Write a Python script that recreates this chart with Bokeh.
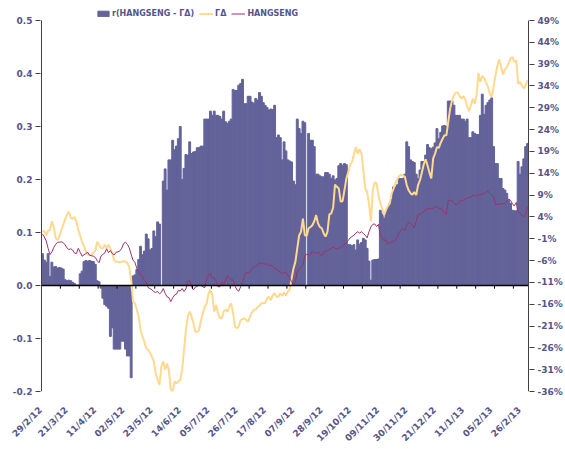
from math import pi
import numpy as np
from bokeh.plotting import figure
from bokeh.models import (Range1d, LinearAxis, FixedTicker, PrintfTickFormatter,
                          CustomJSTickFormatter, Legend, LegendItem)
from bokeh.embed import file_html
from bokeh.resources import INLINE

# ---------------- data (one value per trading day) ----------------
date_labels = ["29/2/12", "21/3/12", "11/4/12", "02/5/12", "23/5/12", "14/6/12",
               "05/7/12", "26/7/12", "17/8/12", "07/9/12", "28/9/12", "19/10/12",
               "09/11/12", "30/11/12", "21/12/12", "11/1/13", "05/2/13", "26/2/13"]

# r(HANGSENG - ΓΔ)  (left axis)
corr = [
    0.060, 0.048, 0.044, 0.060, 0.017, 0.044, 0.035, 0.036, 0.033, 0.034,
    0.033, 0.031, 0.011, 0.009, 0.010, 0.009, 0.006, 0.004, 0.001, 0.001,
    0.022, 0.027, 0.045, 0.047, 0.046, 0.047, 0.046, 0.045, 0.040, 0.009,
    0.007, -0.005, -0.024, -0.036, -0.039, -0.043, -0.096, -0.080, -0.120, -0.120,
    -0.120, -0.120, -0.105, -0.105, -0.120, -0.133, -0.133, -0.174, 0.018, 0.020,
    0.030, 0.049, 0.074, 0.058, 0.065, 0.097, 0.088, 0.067, 0.070, 0.103,
    0.092, 0.120, 0.116, 0.000, 0.197, 0.220, 0.180, 0.237, 0.237, 0.274,
    0.256, 0.263, 0.277, 0.300, 0.200, 0.221, 0.247, 0.246, 0.271, 0.249,
    0.252, 0.253, 0.260, 0.260, 0.263, 0.263, 0.314, 0.314, 0.314, 0.329,
    0.321, 0.329, 0.321, 0.321, 0.319, 0.314, 0.329, 0.309, 0.306, 0.310,
    0.314, 0.370, 0.368, 0.368, 0.378, 0.381, 0.389, 0.343, 0.343, 0.357,
    0.357, 0.346, 0.344, 0.353, 0.350, 0.364, 0.357, 0.345, 0.340, 0.336,
    0.331, 0.333, 0.332, 0.340, 0.279, 0.284, 0.279, 0.237, 0.271, 0.254,
    0.237, 0.235, 0.233, 0.197, 0.190, 0.314, 0.296, 0.287, 0.310, 0.307,
    0.000, 0.287, 0.274, 0.274, 0.262, 0.210, 0.210, 0.207, 0.205, 0.205,
    0.213, 0.213, 0.210, 0.202, 0.207, 0.199, 0.202, 0.226, 0.230, 0.227,
    0.230, 0.228, 0.077, 0.077, 0.075, 0.077, 0.067, 0.086, 0.078, 0.081,
    0.089, 0.086, 0.070, 0.046, 0.010, 0.048, 0.049, 0.049, 0.050, 0.142,
    0.135, 0.127, 0.139, 0.147, 0.155, 0.163, 0.186, 0.186, 0.190, 0.202,
    0.202, 0.202, 0.210, 0.271, 0.262, 0.237, 0.234, 0.232, 0.210, 0.202,
    0.218, 0.234, 0.234, 0.246, 0.266, 0.260, 0.258, 0.261, 0.269, 0.296,
    0.277, 0.289, 0.301, 0.302, 0.300, 0.348, 0.348, 0.348, 0.340, 0.321,
    0.321, 0.321, 0.314, 0.314, 0.310, 0.314, 0.279, 0.279, 0.290, 0.287,
    0.285, 0.285, 0.321, 0.361, 0.323, 0.340, 0.345, 0.350, 0.354, 0.262,
    0.230, 0.230, 0.202, 0.202, 0.183, 0.180, 0.174, 0.161, 0.155, 0.142,
    0.141, 0.141, 0.234, 0.210, 0.224, 0.239, 0.262, 0.268,
]

# ΓΔ cumulative change, %  (right axis)
gd = [
    0.6, 0.8, -0.2, 0.8, 1.0, 3.0, 1.7, -0.8, -1.3, -0.5,
    1.0, 2.1, 3.5, 4.6, 5.2, 3.8, 3.6, 4.0, 2.9, 1.0,
    -0.3, -1.8, -2.6, -4.0, -4.6, -4.7, -4.7, -4.1, -3.8, -1.7,
    -2.4, -3.2, -3.2, -2.4, -3.2, -2.4, -3.2, -4.4, -5.9, -6.3,
    -6.3, -6.4, -6.3, -6.1, -6.3, -6.5, -7.5, -10.5, -15.4, -15.8,
    -17.3, -18.8, -21.9, -23.4, -24.6, -26.1, -26.5, -27.2, -28.0, -29.1,
    -31.8, -33.3, -34.5, -30.3, -29.1, -31.0, -29.6, -31.2, -35.6, -36.0,
    -33.7, -34.1, -33.7, -33.3, -31.0, -26.5, -21.9, -18.8, -17.7, -18.8,
    -20.4, -22.3, -22.3, -21.9, -19.6, -18.1, -16.6, -15.8, -13.5, -12.7,
    -13.9, -17.7, -16.2, -18.1, -19.2, -19.2, -17.7, -17.2, -17.7, -16.6,
    -15.8, -18.1, -21.1, -21.5, -21.1, -19.6, -19.4, -19.2, -19.6, -20.0,
    -18.8, -17.9, -17.3, -17.2, -16.6, -16.4, -15.8, -15.7, -15.7, -14.6,
    -14.3, -15.1, -13.9, -13.5, -14.3, -14.3, -13.5, -14.1, -13.3, -14.0,
    -13.1, -12.7, -10.1, -7.8, -6.3, -3.2, -0.2, 0.6, 3.6, -0.2,
    -0.3, 1.4, 1.7, 2.1, 3.0, 4.4, 2.5, 1.7, 1.4, 0.2,
    -0.5, 0.6, 4.6, 4.8, 6.1, 11.4, 10.9, 10.5, 7.5, 7.6,
    10.1, 12.8, 14.2, 16.0, 16.6, 18.3, 20.0, 18.5, 19.5, 18.5,
    14.7, 10.5, 9.7, 7.1, 3.0, 10.1, 11.9, 11.7, 9.0, 7.1,
    5.9, 4.4, 5.6, 6.5, 7.1, 9.4, 10.5, 11.7, 12.6, 13.4,
    13.7, 13.4, 13.2, 11.3, 10.1, 9.4, 9.1, 9.7, 9.0, 11.3,
    12.4, 14.2, 16.0, 17.2, 15.8, 14.2, 12.8, 17.4, 18.5, 20.0,
    19.8, 21.0, 21.9, 22.7, 22.7, 25.8, 28.8, 30.7, 31.9, 32.5,
    32.5, 31.7, 31.1, 31.7, 30.9, 29.4, 28.2, 29.6, 31.1, 29.9,
    31.9, 37.0, 34.9, 36.3, 35.8, 34.9, 33.8, 32.2, 31.5, 34.0,
    36.4, 38.7, 40.1, 38.3, 36.6, 37.8, 38.3, 39.3, 40.4, 40.6,
    39.5, 39.9, 34.5, 34.9, 34.1, 33.4, 34.1, 35.3,
]

# HANGSENG cumulative change, %  (right axis)
hsi = [
    0.1, -0.6, -1.5, -3.2, -4.6, -4.0, -3.0, -2.3, -1.8, -1.8,
    -1.7, -1.9, -2.4, -3.1, -3.5, -3.3, -3.6, -4.3, -4.4, -3.2,
    -4.1, -5.0, -4.7, -4.4, -4.1, -4.8, -4.9, -5.0, -5.3, -6.0,
    -6.5, -5.0, -4.6, -4.3, -3.3, -4.2, -3.7, -4.4, -4.7, -4.1,
    -4.0, -3.8, -3.2, -2.1, -1.8, -2.3, -3.1, -4.6, -5.9, -6.4,
    -7.8, -8.5, -9.3, -9.8, -10.5, -10.9, -12.2, -12.4, -12.7, -13.1,
    -13.3, -13.1, -13.6, -13.3, -12.4, -13.5, -14.3, -14.5, -15.4, -14.5,
    -13.9, -13.7, -12.8, -13.0, -12.4, -13.1, -12.5, -10.7, -10.6, -12.0,
    -12.7, -12.1, -11.9, -11.6, -11.7, -12.0, -12.2, -10.3, -9.3, -9.0,
    -10.0, -9.9, -10.8, -12.0, -12.0, -10.9, -11.5, -10.5, -9.5, -10.0,
    -10.5, -10.4, -11.8, -12.7, -13.0, -12.0, -10.8, -9.5, -8.7, -8.8,
    -8.5, -7.8, -7.6, -7.3, -6.9, -6.5, -6.8, -6.6, -6.9, -6.7,
    -7.2, -7.1, -7.3, -7.8, -7.9, -8.4, -8.6, -8.9, -8.9, -8.7,
    -9.3, -10.1, -10.8, -11.6, -10.8, -8.5, -8.1, -7.5, -6.9, -4.9,
    -4.6, -4.7, -4.6, -3.8, -4.3, -4.3, -4.1, -4.4, -5.0, -4.1,
    -3.8, -3.7, -3.4, -3.2, -2.9, -3.2, -3.4, -3.2, -3.0, -2.6,
    -2.3, -1.9, -1.4, -0.8, -0.5, -0.2, 0.3, 0.6, 0.3, 0.6,
    0.2, -0.2, -0.8, 0.6, 1.7, 2.3, 2.4, 1.8, 2.3, -0.2,
    -0.8, -1.5, -1.2, -2.3, -1.9, -1.8, -1.7, -1.2, -0.5, 0.4,
    1.1, 1.4, 0.9, 2.1, 2.8, 2.5, 2.1, 1.5, 3.0, 4.6,
    4.6, 4.9, 5.2, 5.7, 5.8, 6.0, 5.9, 6.0, 6.3, 6.4,
    5.9, 6.0, 5.5, 5.0, 4.6, 7.8, 7.8, 7.6, 7.3, 6.7,
    7.0, 7.6, 7.8, 7.8, 8.2, 8.2, 8.5, 8.5, 9.0, 8.9,
    8.8, 9.1, 9.1, 9.2, 9.4, 9.7, 9.9, 9.5, 9.1, 8.6,
    6.9, 6.9, 7.0, 7.0, 7.0, 7.1, 7.6, 8.1, 7.8, 7.0,
    6.5, 7.3, 5.3, 4.8, 4.4, 4.0, 4.6, 6.3,
]

left_ticks = [-0.2, -0.1, 0.0, 0.1, 0.2, 0.3, 0.4, 0.5]
right_ticks = [-36, -31, -26, -21, -16, -11, -6, -1, 4, 9, 14, 19, 24, 29, 34, 39, 44, 49]
label_every = 15
tick_every = 10

# ---------------- style / layout ----------------
BAR = "#63639a"
GD_COL = "#ffd98f"
HSI_COL = "#993366"
TXT = "#55558a"
AX = "#404040"
FONT = "DejaVu Sans"

W, H = 565, 449
B_LEFT, B_RIGHT, B_TOP, B_BOTTOM = 40, 34, 6, 58
AXIS_PX = 371        # pixel height of the value axes (0.5 .. -0.2)
TOP_PAD_PX = 14      # room above the axes for the legend
SIDE_PAD_PX = 1      # keeps the drawn axis lines inside the frame
LABEL_SHIFT = 2.3    # rotated date labels sit a little left of their day

n = len(corr)
days = np.arange(n)
frame_w = W - B_LEFT - B_RIGHT
x_pad = SIDE_PAD_PX * n / (frame_w - 2 * SIDE_PAD_PX)
x_start, x_end = -0.5 - x_pad, n - 0.5 + x_pad
lspan = left_ticks[-1] - left_ticks[0]
rspan = right_ticks[-1] - right_ticks[0]

p = figure(width=W, height=H, output_backend="svg", toolbar_location=None,
           x_range=Range1d(x_start, x_end),
           y_range=Range1d(left_ticks[0], left_ticks[-1] + lspan * TOP_PAD_PX / AXIS_PX),
           min_border_left=B_LEFT, min_border_right=B_RIGHT, min_border_top=B_TOP,
           min_border_bottom=B_BOTTOM)
p.extra_y_ranges = {"pct": Range1d(right_ticks[0],
                                   right_ticks[-1] + rspan * TOP_PAD_PX / AXIS_PX)}
p.outline_line_color = None
p.xgrid.visible = False
p.ygrid.visible = False

bars = p.vbar(x=days, top=corr, bottom=0, width=1.0, fill_color=BAR,
              line_color=BAR, line_width=1.0)
gd_line = p.line(days, gd, y_range_name="pct", line_color=GD_COL, line_width=2)
hsi_line = p.line(days, hsi, y_range_name="pct", line_color=HSI_COL, line_width=1)

# zero line (category axis crossing) with its tick marks
p.segment(x0=[-0.5], y0=[0], x1=[n - 0.5], y1=[0], line_color="black", line_width=1.3)
cat_ticks = np.arange(0, n + 1, tick_every) - 0.5
p.segment(x0=cat_ticks, y0=0, x1=cat_ticks, y1=-0.006, line_color="black", line_width=1)

# value-axis lines, only over the axis span
p.segment(x0=[-0.5, n - 0.5], y0=[left_ticks[0]] * 2, x1=[-0.5, n - 0.5],
          y1=[left_ticks[-1]] * 2, line_color=AX, line_width=1)


def style_value_axis(ax):
    ax.axis_line_color = None
    ax.major_tick_line_color = AX
    ax.major_tick_out = 5
    ax.major_tick_in = 0
    ax.minor_tick_line_color = None
    ax.major_label_standoff = 3
    ax.major_label_text_font = FONT
    ax.major_label_text_font_size = "9px"
    ax.major_label_text_font_style = "bold"
    ax.major_label_text_color = TXT


ya = p.yaxis[0]
ya.ticker = FixedTicker(ticks=left_ticks)
ya.formatter = PrintfTickFormatter(format="%.1f")
style_value_axis(ya)

ra = LinearAxis(y_range_name="pct", ticker=FixedTicker(ticks=right_ticks),
                formatter=PrintfTickFormatter(format="%d%%"))
style_value_axis(ra)
p.add_layout(ra, "right")

# bottom date labels (every 15th trading day); keep every label inside the range
xa = p.xaxis[0]
label_pos = [max(i * label_every - LABEL_SHIFT, x_start + 0.05)
             for i in range(len(date_labels))]
xa.ticker = FixedTicker(ticks=label_pos)
xa.formatter = CustomJSTickFormatter(
    args=dict(labels=date_labels, step=label_every, shift=LABEL_SHIFT),
    code="const k = Math.round((tick + shift) / step); return labels[k] || '';")
xa.major_label_orientation = pi / 4
xa.axis_line_color = None
xa.major_tick_line_color = None
xa.minor_tick_line_color = None
xa.major_label_standoff = 11
xa.major_label_text_font = FONT
xa.major_label_text_font_size = "9px"
xa.major_label_text_font_style = "bold"
xa.major_label_text_color = TXT

frame_h = H - B_TOP - B_BOTTOM
legend = Legend(items=[LegendItem(label="r(HANGSENG - ΓΔ)", renderers=[bars]),
                       LegendItem(label="ΓΔ", renderers=[gd_line]),
                       LegendItem(label="HANGSENG", renderers=[hsi_line])],
                orientation="horizontal", location=(56, frame_h - 12),
                label_text_font=FONT, label_text_font_size="8px",
                label_text_font_style="bold", label_text_color=TXT,
                glyph_width=14, glyph_height=7, label_standoff=2, spacing=5,
                padding=0, margin=0, label_height=8, label_width=0,
                border_line_color=None, background_fill_alpha=0)
p.add_layout(legend, "center")

open("out.html", "w").write(file_html(p, INLINE))
